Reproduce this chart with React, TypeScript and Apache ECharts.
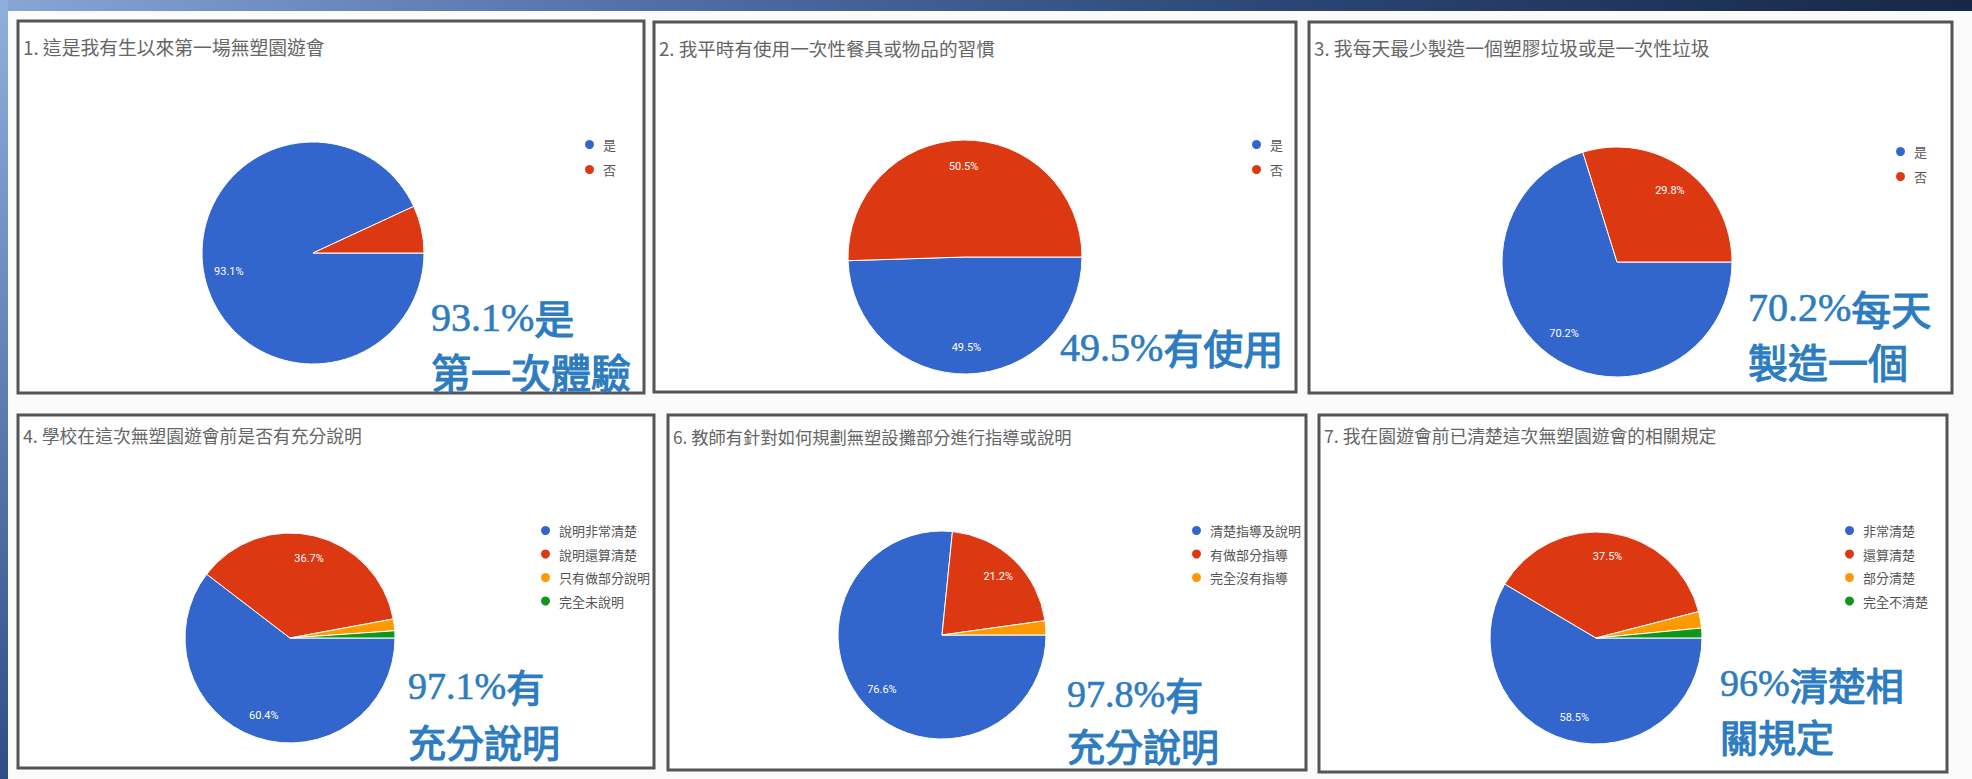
import React, { useEffect, useRef } from 'react';
import * as echarts from 'echarts';

// ---------- data ----------
const panelTitles = [
  '1. 這是我有生以來第一場無塑園遊會',
  '2. 我平時有使用一次性餐具或物品的習慣',
  '3. 我每天最少製造一個塑膠垃圾或是一次性垃圾',
  '4. 學校在這次無塑園遊會前是否有充分說明',
  '6. 教師有針對如何規劃無塑設攤部分進行指導或說明',
  '7. 我在園遊會前已清楚這次無塑園遊會的相關規定',
];
const yesNo = ['是', '否'];
const q1Values = [93.1, 6.9];
const q2Values = [49.5, 50.5];
const q3Values = [70.2, 29.8];
const q4Names = ['說明非常清楚', '說明還算清楚', '只有做部分說明', '完全未說明'];
const q4Values = [60.4, 36.7, 1.8, 1.1];
const q6Names = ['清楚指導及說明', '有做部分指導', '完全沒有指導'];
const q6Values = [76.6, 21.2, 2.2];
const q7Names = ['非常清楚', '還算清楚', '部分清楚', '完全不清楚'];
const q7Values = [58.5, 37.5, 2.5, 1.5];
const noteTexts = [
  '93.1%是\n第一次體驗',
  '49.5%有使用',
  '70.2%每天\n製造一個',
  '97.1%有\n充分說明',
  '97.8%有\n充分說明',
  '96%清楚相\n關規定',
];

const pieNames = [yesNo, yesNo, yesNo, q4Names, q6Names, q7Names];
const pieValues = [q1Values, q2Values, q3Values, q4Values, q6Values, q7Values];

// ---------- layout / style ----------
const COLORS = ['#3366cc', '#dc3912', '#ff9900', '#109618'];
const CJK = "'Noto Sans CJK TC', 'Noto Sans', sans-serif";
const NOTE_COLOR = '#2d7cc0';

const panelBoxes = [
  { x: 18, y: 21, w: 626, h: 372 },
  { x: 654, y: 22, w: 642, h: 370 },
  { x: 1309, y: 22, w: 643, h: 371 },
  { x: 18, y: 415, w: 636, h: 353 },
  { x: 668, y: 415, w: 638, h: 355 },
  { x: 1319, y: 415, w: 628, h: 357 },
];
const titleStyle = [
  { size: 18.8, dy: 16 },
  { size: 18.6, dy: 16 },
  { size: 18.8, dy: 16 },
  { size: 17.8, dy: 11 },
  { size: 17.3, dy: 13 },
  { size: 17.8, dy: 11 },
];
const pieGeo = [
  { cx: 313, cy: 253, r: 111 },
  { cx: 965, cy: 257, r: 117 },
  { cx: 1617, cy: 262, r: 115 },
  { cx: 290, cy: 638, r: 105 },
  { cx: 942, cy: 635, r: 104 },
  { cx: 1596, cy: 638, r: 106 },
];
const legendGeo = [
  { left: 583, top: 138, gap: 12 },
  { left: 1250, top: 138, gap: 12 },
  { left: 1894, top: 145, gap: 12 },
  { left: 539, top: 524, gap: 10.5 },
  { left: 1190, top: 524, gap: 10.5 },
  { left: 1843, top: 524, gap: 10.5 },
];
const notePos = [
  { x: 431, y: 290, size: 40, lh: 54 },
  { x: 1060, y: 320, size: 40, lh: 54 },
  { x: 1748, y: 281, size: 40, lh: 53 },
  { x: 408, y: 658, size: 38, lh: 55 },
  { x: 1067, y: 668, size: 38, lh: 51 },
  { x: 1720, y: 657, size: 38, lh: 52 },
];

const toRich = (t: string) =>
  t
    .split('\n')
    .map((line) =>
      line.replace(/([\u3400-\u9fff]+)|([^\u3400-\u9fff]+)/g, (_m, c, d) =>
        c ? `{c|${c}}` : `{d|${d}}`
      )
    )
    .join('\n');

export default function App() {
  const ref = useRef<HTMLDivElement>(null);

  useEffect(() => {
    if (!ref.current) return;
    const chart = echarts.init(ref.current, undefined, { renderer: 'svg' });

    const series: any[] = [];
    pieGeo.forEach((g, i) => {
      const data = pieNames[i].map((n, j) => ({
        name: n,
        value: pieValues[i][j],
        itemStyle: { color: COLORS[j] },
      }));
      series.push({
        type: 'pie',
        center: [g.cx, g.cy],
        radius: g.r,
        startAngle: 0,
        clockwise: true,
        silent: true,
        z: 2,
        label: { show: false },
        labelLine: { show: false },
        itemStyle: { borderColor: '#ffffff', borderWidth: 1 },
        data,
      });
    });
    pieGeo.forEach((g, i) => {
      const data = pieNames[i].map((n, j) => ({
        name: n,
        value: pieValues[i][j],
      }));
      series.push({
        type: 'pie',
        center: [g.cx, g.cy],
        radius: [g.r * 0.5, g.r],
        startAngle: 0,
        clockwise: true,
        silent: true,
        z: 3,
        minShowLabelAngle: 30,
        itemStyle: { color: 'rgba(0,0,0,0)', borderWidth: 0 },
        label: {
          show: true,
          position: 'inside',
          color: '#ffffff',
          fontSize: 11,
          fontFamily: 'Roboto, Arial, sans-serif',
          formatter: (p: any) => `${Number(p.value).toFixed(1)}%`,
        },
        labelLine: { show: false },
        data,
      });
    });

    const graphics: any[] = [
      {
        type: 'rect',
        shape: { x: 0, y: 0, width: 1972, height: 11 },
        style: {
          fill: new echarts.graphic.LinearGradient(0, 0, 1, 0, [
            { offset: 0, color: '#86a6d6' },
            { offset: 0.33, color: '#4f6fa6' },
            { offset: 0.66, color: '#2a4574' },
            { offset: 1, color: '#172746' },
          ]),
        },
        z: 0,
      },
      {
        type: 'rect',
        shape: { x: 0, y: 0, width: 8, height: 779 },
        style: {
          fill: new echarts.graphic.LinearGradient(0, 0, 0, 1, [
            { offset: 0, color: '#8fb0dc' },
            { offset: 1, color: '#2c4d86' },
          ]),
        },
        z: 0,
      },
    ];
    panelBoxes.forEach((b) => {
      graphics.push({
        type: 'rect',
        shape: { x: b.x, y: b.y, width: b.w, height: b.h },
        style: { fill: '#ffffff', stroke: '#555555', lineWidth: 3 },
        z: 0,
      });
    });
    noteTexts.forEach((t, i) => {
      const p = notePos[i];
      graphics.push({
        type: 'text',
        x: p.x,
        y: p.y,
        z: 100,
        style: {
          text: toRich(t),
          fill: NOTE_COLOR,
          fontSize: p.size,
          lineHeight: p.lh,
          align: 'left',
          verticalAlign: 'top',
          rich: {
            d: {
              fill: NOTE_COLOR,
              stroke: NOTE_COLOR,
              lineWidth: 0.6,
              fontSize: p.size,
              lineHeight: p.lh,
              fontFamily: "'Liberation Serif', serif",
            },
            c: {
              fill: NOTE_COLOR,
              stroke: NOTE_COLOR,
              lineWidth: 1.2,
              fontSize: p.size,
              lineHeight: p.lh,
              fontWeight: 'normal',
              fontFamily: "'Noto Sans CJK TC', sans-serif",
            },
          },
        },
      });
    });

    const option: any = {
      animation: false,
      backgroundColor: '#fbfbfc',
      title: panelTitles.map((t, i) => ({
        text: t,
        left: panelBoxes[i].x + 5,
        top: panelBoxes[i].y + titleStyle[i].dy,
        padding: 0,
        textStyle: {
          fontSize: titleStyle[i].size,
          color: '#666666',
          fontWeight: 'normal',
          fontFamily: CJK,
        },
      })),
      legend: legendGeo.map((l, i) => ({
        orient: 'vertical',
        left: l.left,
        top: l.top,
        padding: 0,
        itemGap: l.gap,
        itemWidth: 11,
        itemHeight: 11,
        icon: 'circle',
        selectedMode: false,
        data: pieNames[i],
        textStyle: { fontSize: 13, color: '#555555', fontFamily: CJK, padding: [0, 0, 0, 3] },
      })),
      graphic: graphics,
      series,
    };
    chart.setOption(option);
    return () => chart.dispose();
  }, []);

  return (
    <div
      ref={ref}
      style={{ position: 'fixed', left: 0, top: 0, width: 1972, height: 779 }}
    />
  );
}
